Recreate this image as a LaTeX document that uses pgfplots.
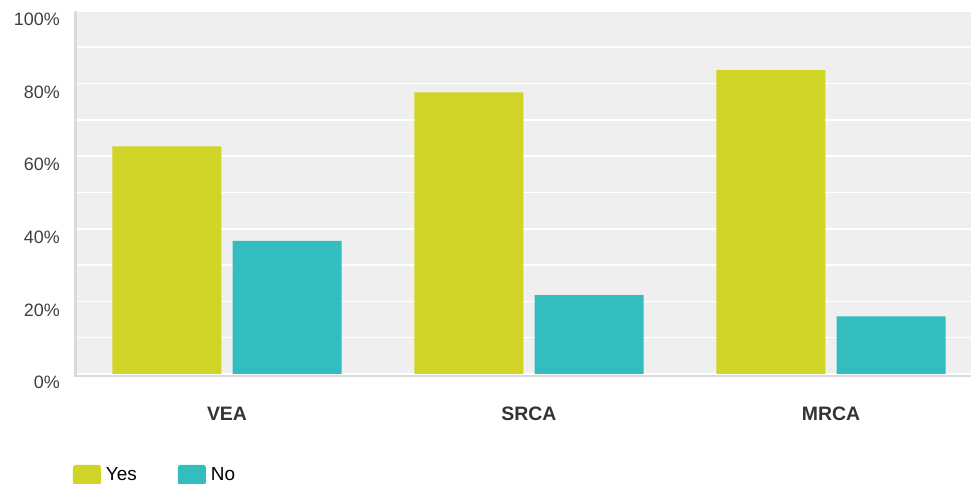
\documentclass[border=0pt]{standalone}
\usepackage{pgfplots}
\pgfplotsset{compat=1.18}
\usepackage{fontspec}
\setmainfont{Liberation Sans}
\definecolor{yescol}{RGB}{207,212,39}
\definecolor{nocol}{RGB}{51,189,191}
\definecolor{plotbg}{RGB}{239,239,239}
\definecolor{txt}{RGB}{64,64,64}
\definecolor{axl}{RGB}{218,218,218}
\begin{document}
\begin{tikzpicture}[x=1bp,y=1bp]
\useasboundingbox (0,0) rectangle (971,484);
\clip (0,0) rectangle (971,484);
\begin{axis}[
  at={(76bp,110bp)}, anchor=south west,
  scale only axis, width=895bp, height=363bp,
  xmin=-0.5, xmax=2.4636, ymin=0, ymax=100,
  clip=false,
  axis background/.style={fill=plotbg},
  axis line style={draw=none},
  ybar, bar width=0.361,
  xtick={0,1,2}, xticklabels={VEA,SRCA,MRCA},
  ytick={0,20,40,60,80,100},
  yticklabels={0\%,20\%,40\%,60\%,80\%,100\%},
  minor ytick={10,30,50,70,90},
  ymajorgrids, yminorgrids,
  major grid style={draw=white, line width=1.6bp},
  minor grid style={draw=white, line width=1.6bp},
  tick style={draw=none},
  font=\fontsize{18}{21}\selectfont,
  yticklabel style={anchor=east, inner sep=0pt, xshift=-16bp, yshift=-8.5bp, text=txt},
  xticklabel style={anchor=base, inner sep=0pt, yshift=-42bp, text=black!80, font=\fontsize{19.5}{22}\selectfont\bfseries},
  legend columns=2,
  legend style={draw=none, fill=none, inner sep=0pt, outer sep=0pt, anchor=west, at={(-0.0034,-0.278)},
    font=\fontsize{19}{22}\selectfont, text=black,
    /tikz/every even column/.append style={column sep=41bp},
    nodes={inner sep=0pt, anchor=west}},
  legend image code/.code={\fill[#1, rounded corners=2.5bp] (0bp,-10bp) rectangle (28bp,10bp); \path (28bp,0) -- (33bp,0);},
]
\addplot[fill=yescol, draw=none, bar shift=-0.199] coordinates {(0,62.7) (1,77.6) (2,83.7)};
\addplot[fill=nocol, draw=none, bar shift=0.199] coordinates {(0,36.7) (1,21.7) (2,15.9)};
\legend{Yes,No}
\draw[axl, line width=2bp] ([yshift=-1.6bp]rel axis cs:0,0) -- ([yshift=-1.6bp]rel axis cs:1,0);
\draw[axl, line width=3bp] ([xshift=-0.5bp,yshift=-2.6bp]rel axis cs:0,0) -- ([xshift=-0.5bp]rel axis cs:0,1);
\end{axis}
\end{tikzpicture}
\end{document}
